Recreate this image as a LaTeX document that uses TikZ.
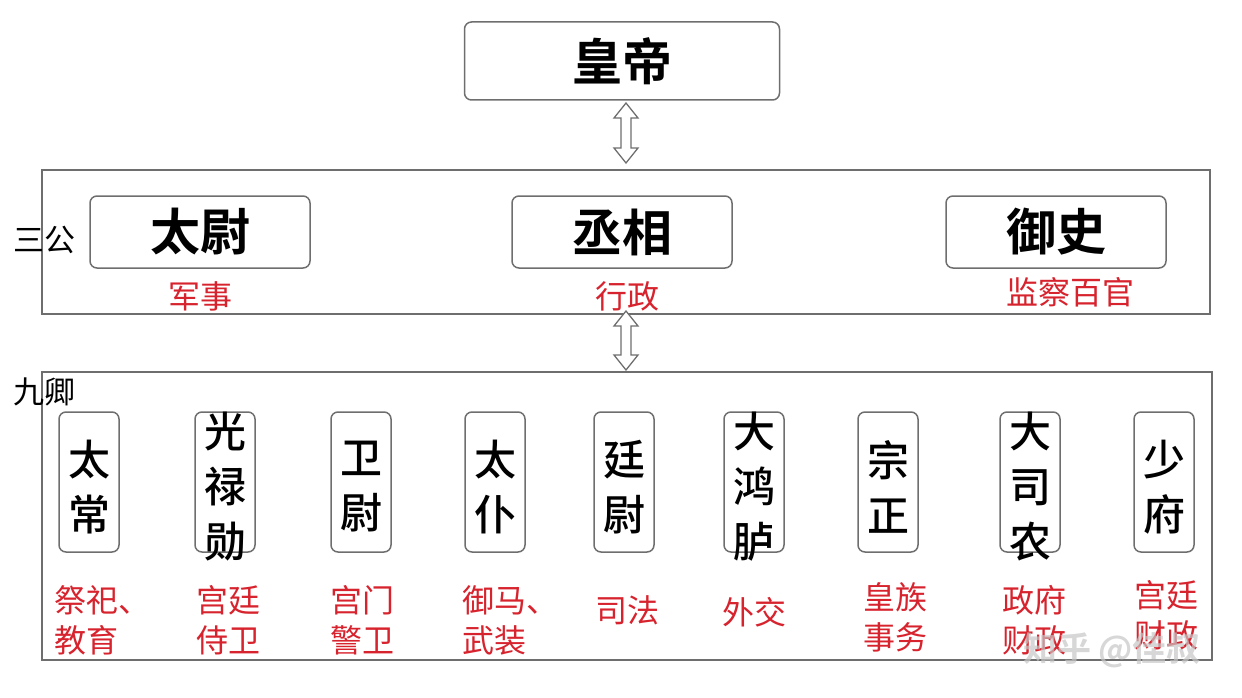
\documentclass[tikz,border=0pt]{standalone}
\usepackage{fontspec}
\newfontfamily\cjk{Noto Sans CJK SC}
\newfontfamily\cjkm{Noto Sans CJK SC Medium}
\newfontfamily\cjkb{Noto Sans CJK SC Bold}
\definecolor{redt}{RGB}{215,35,45}
\definecolor{frame}{RGB}{110,110,110}
\begin{document}
\begin{tikzpicture}[x=1pt,y=-1pt,
  box/.style={draw=frame,line width=1.5pt,rounded corners=7pt},
  fr/.style={draw=frame,line width=1.5pt},
  title/.style={font=\cjkb\fontsize{50}{50}\selectfont},
  small/.style={font=\cjkm\fontsize{42}{55}\selectfont,align=center},
  lab/.style={font=\cjk\fontsize{32}{40}\selectfont,text=redt,align=left},
  side/.style={font=\cjk\fontsize{31}{31}\selectfont}]
\useasboundingbox (0,0) rectangle (1242,698);
\newcommand{\dblarrow}[3]{% x, ytop, ybot
  \draw[frame,line width=1.3pt,fill=white] (#1,#2) -- (#1+12,#2+15) -- (#1+5,#2+15) -- (#1+5,#3-15) -- (#1+12,#3-15) -- (#1,#3) -- (#1-12,#3-15) -- (#1-5,#3-15) -- (#1-5,#2+15) -- (#1-12,#2+15) -- cycle;}
\node[box,minimum width=315pt,minimum height=78pt,title] (hd) at (622,61) {皇帝};
\node[fr,minimum width=1168pt,minimum height=144pt] (sg) at (626,242) {};
\node[fr,minimum width=1170pt,minimum height=288pt] (jq) at (627,516) {};
\node[side] (sgl) at (44,240) {三公};
\node[side] (jql) at (44,392) {九卿};
\dblarrow{626}{103}{163}
\dblarrow{626}{311}{370}
\node[box,minimum width=220pt,minimum height=72pt,title] (tw) at (200,232) {太尉};
\node[box,minimum width=220pt,minimum height=72pt,title] (cx) at (622,232) {丞相};
\node[box,minimum width=220pt,minimum height=72pt,title] (ys) at (1056,232) {御史};
\node[lab] (l1) at (200,296) {军事};
\node[lab] (l2) at (627,296) {行政};
\node[lab] (l3) at (1070,292) {监察百官};
\foreach \n/\x/\t/\l/\lx/\ly in {a/89/太\\常/祭祀、\\教育/102/620, b/225/光\\禄\\勋/宫廷\\侍卫/228/620, c/361/卫\\尉/宫门\\警卫/362/620, d/495/太\\仆/御马、\\武装/510/620, e/624/廷\\尉/司法/627/610, f/754/大\\鸿\\胪/外交/754/612, g/888/宗\\正/皇族\\事务/895/617, h/1030/大\\司\\农/政府\\财政/1034/620, i/1164/少\\府/宫廷\\财政/1166/615}{
  \node[box,minimum width=60pt,minimum height=140pt] (k\n) at (\x,482) {};
  \node[small] (t\n) at (\x,487) {\t};
  \node[lab] (r\n) at (\lx,\ly) {\l};
}
\node[font=\cjkb\fontsize{34}{34}\selectfont,text=gray!45,opacity=0.7] (wm) at (1112,650) {知乎 @佳叔};
\end{tikzpicture}
\end{document}
